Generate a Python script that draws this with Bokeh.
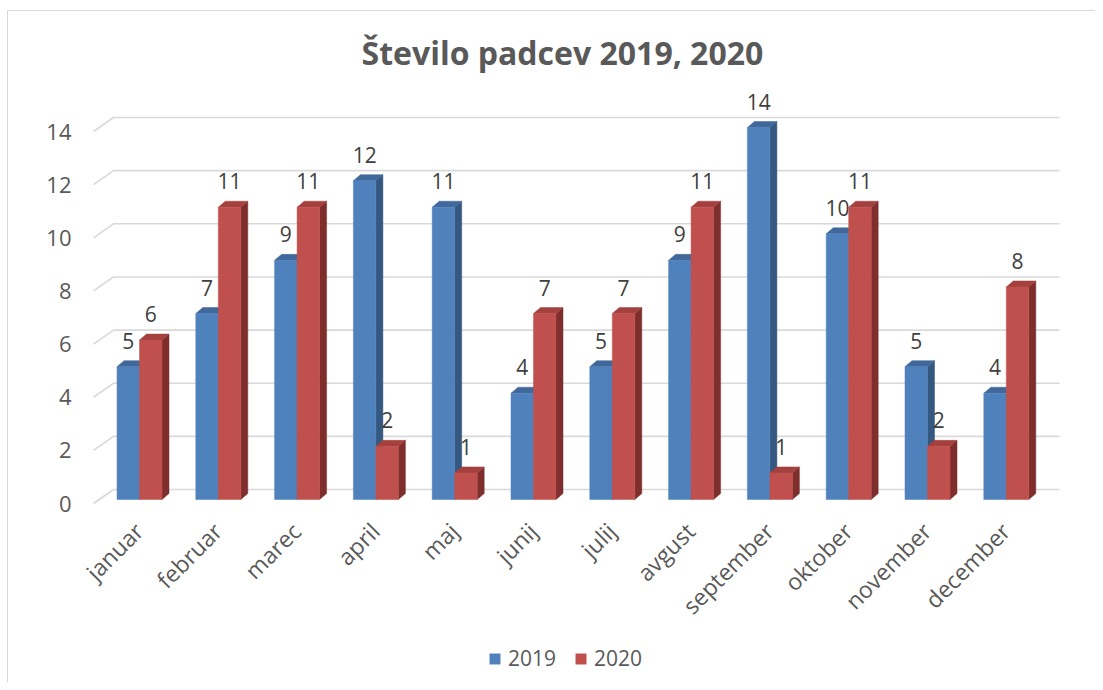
from bokeh.plotting import figure
from bokeh.models import (Range1d, LinearAxis, FixedTicker, Legend, LegendItem,
                          ColumnDataSource, Title)
from bokeh.core.properties import value
from bokeh.embed import file_html
from bokeh.resources import INLINE
import math

# ---- data ----
months = ["januar", "februar", "marec", "april", "maj", "junij", "julij",
          "avgust", "september", "oktober", "november", "december"]
series_names = ["2019", "2020"]
v2019 = [5, 7, 9, 12, 11, 4, 5, 9, 14, 10, 5, 4]
v2020 = [6, 11, 11, 2, 1, 7, 7, 11, 1, 11, 2, 8]
y_ticks = [0, 2, 4, 6, 8, 10, 12, 14]
title_text = "Število padcev 2019, 2020"

FONT = "Open Sans"
TXT = "#595959"
BORDER = "#D9D9D9"

# ---- geometry (px per unit) ----
px_x = 78.8
px_y = 26.57
w = 22.5 / px_x          # bar front width
dx = 7 / px_x            # depth offset x
dy = 6 / px_y            # depth offset y

x_start, x_end = (80 - 139) / px_x, (1065 - 139) / px_x
y_start, y_end = -(682 - 499) / px_y, (499 - 85) / px_y

p = figure(width=1095, height=682, output_backend="svg", toolbar_location=None,
           x_range=Range1d(x_start, x_end), y_range=Range1d(y_start, y_end),
           x_axis_location=None, y_axis_location=None,
           min_border_left=80, min_border_right=30, min_border_top=85,
           min_border_bottom=0, title=None)
p.outline_line_color = None
p.grid.visible = False
p.background_fill_color = "white"
p.border_fill_color = None
# thin chart-area border on the left and top (as in the reference)
p.styles = {
    "background-color": "white",
    "background-image": f"linear-gradient({BORDER},{BORDER}), linear-gradient({BORDER},{BORDER})",
    "background-size": "1px 100%, 100% 1px",
    "background-position": "7px 10px, 7px 10px",
    "background-repeat": "no-repeat",
}

# title
t = Title(text=title_text, align="left", offset=281, text_font=FONT,
          text_font_size="32px", text_font_style="bold", text_color=TXT,
          standoff=23)
p.add_layout(t, "above")

# ---- gridlines ----
gx_front = (93 - 139) / px_x
gx_back0 = (113 - 139) / px_x
gx_back1 = (1059 - 139) / px_x
g_front_off = -4 / px_y
g_back_off = 10 / px_y
xs = [[gx_front, gx_back0, gx_back1] for t in y_ticks]
ys = [[t + g_front_off, t + g_back_off, t + g_back_off] for t in y_ticks]
p.multi_line(xs, ys, line_color=BORDER, line_width=1.6)

# ---- y axis ----
p.extra_y_ranges = {"lab": Range1d(y_start - g_front_off, y_end - g_front_off)}
yax = LinearAxis(y_range_name="lab", ticker=FixedTicker(ticks=y_ticks))
yax.axis_line_color = None
yax.major_tick_line_color = None
yax.minor_tick_line_color = None
yax.major_tick_out = 0
yax.major_tick_in = 0
yax.major_label_standoff = 9
yax.major_label_text_font = FONT
yax.major_label_text_font_size = "22px"
yax.major_label_text_color = TXT
p.add_layout(yax, "left")

# ---- category labels (rotated) ----
cat_src = ColumnDataSource(dict(x=list(range(len(months))), y=[0] * len(months),
                                m=months))
p.text(x="x", y="y", text="m", source=cat_src, angle=math.pi / 4,
       x_offset=-12, y_offset=16, text_align="right", text_baseline="top",
       text_font=value(FONT), text_font_size="23px", text_color=TXT)

# ---- 3D bars ----
styles = [
    dict(front="#4F81BD", top="#41689A", side="#34587F", off=-w),
    dict(front="#C0504D", top="#A4403D", side="#7E2E2C", off=0.0),
]
legend_items = []
for name, vals, st in zip(series_names, [v2019, v2020], styles):
    lefts = [i + st["off"] for i in range(len(vals))]
    rights = [l + w for l in lefts]
    side_xs = [[r, r, r + dx, r + dx] for r in rights]
    side_ys = [[0, v, v + dy, dy] for v in vals]
    top_xs = [[l, r, r + dx, l + dx] for l, r in zip(lefts, rights)]
    top_ys = [[v, v, v + dy, v + dy] for v in vals]
    p.patches(side_xs, side_ys, fill_color=st["side"], line_color=st["side"], line_width=0.5)
    p.patches(top_xs, top_ys, fill_color=st["top"], line_color=st["top"], line_width=0.5)
    src = ColumnDataSource(dict(x=[l + w / 2 for l in lefts], top=vals,
                                lab=[str(v) for v in vals]))
    r = p.vbar(x="x", top="top", bottom=0, width=w, source=src,
               fill_color=st["front"], line_color=st["front"], line_width=0.5)
    p.text(x="x", y="top", text="lab", source=src, y_offset=-26,
           text_align="center", text_baseline="middle",
           text_font=value(FONT), text_font_size="21px", text_color="#404040")
    legend_items.append(LegendItem(label=name, renderers=[r]))

legend = Legend(items=legend_items, orientation="horizontal", location=(408, 10))
legend.label_text_font = FONT
legend.label_text_font_size = "21px"
legend.label_text_color = TXT
legend.glyph_width = 13
legend.glyph_height = 13
legend.border_line_color = None
legend.background_fill_alpha = 0
legend.spacing = 18
legend.label_standoff = 7
legend.margin = 0
legend.padding = 5
p.add_layout(legend)

open("out.html", "w").write(file_html(p, INLINE))
